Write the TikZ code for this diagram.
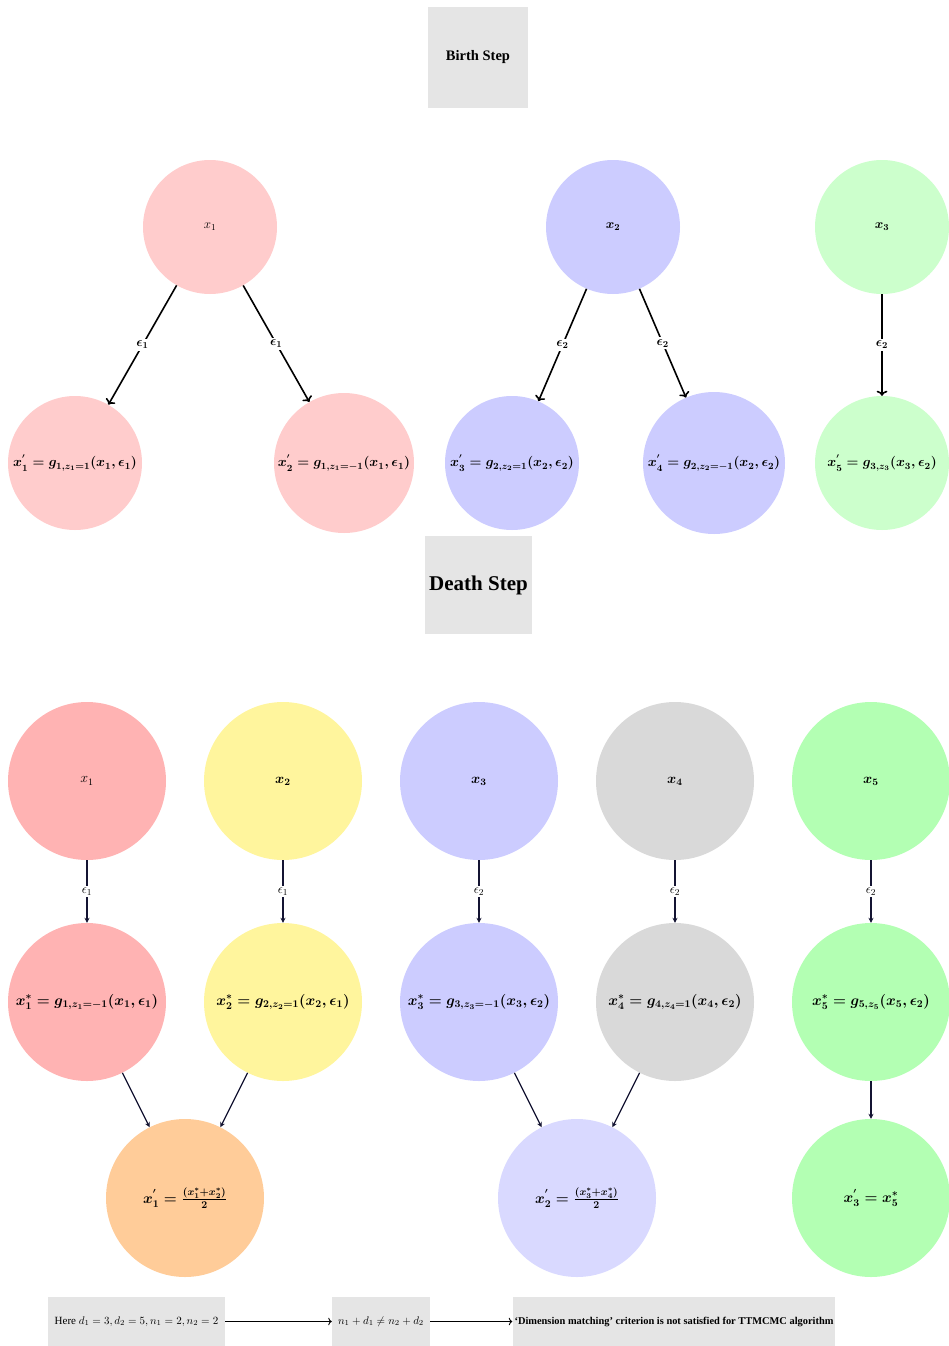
\RequirePackage{fix-cm}
\documentclass[tikz,border=0pt]{standalone}
\usepackage[no-math]{fontspec}
\setmainfont{Liberation Serif}
\usepackage{amsmath}
\usetikzlibrary{arrows.meta}
\definecolor{bpink}{RGB}{255,204,204}
\definecolor{bblue}{RGB}{204,204,255}
\definecolor{bgreen}{RGB}{204,255,204}
\definecolor{dred}{RGB}{255,179,179}
\definecolor{dyellow}{RGB}{255,245,157}
\definecolor{dblue}{RGB}{204,204,255}
\definecolor{dgray}{RGB}{217,217,217}
\definecolor{dgreen}{RGB}{179,255,179}
\definecolor{dorange}{RGB}{255,204,153}
\definecolor{dlblue}{RGB}{217,217,255}
\definecolor{boxgray}{RGB}{229,229,229}
\definecolor{navy}{RGB}{20,20,50}
\begin{document}
\begin{tikzpicture}[x=1pt,y=-1pt,
  bubble/.style={circle, inner sep=0pt, minimum size=134pt},
  dbubble/.style={circle, inner sep=0pt, minimum size=158pt},
  bmath/.style={font=\boldmath\fontsize{13.6}{16}\selectfont},
  dmath/.style={font=\boldmath\fontsize{14.8}{17}\selectfont},
  toplab/.style={font=\fontsize{13}{15}\selectfont},
  toplabb/.style={font=\boldmath\fontsize{13}{15}\selectfont},
  dtoplab/.style={font=\fontsize{14}{16}\selectfont},
  dtoplabb/.style={font=\boldmath\fontsize{14}{16}\selectfont},
  barrow/.style={->, line width=1.6pt},
  darrow/.style={-{Stealth[length=5pt,width=5pt]}, line width=1.3pt, draw=navy},
  blab/.style={fill=white, inner sep=2pt, font=\boldmath\fontsize{13}{15}\selectfont},
  dlab/.style={fill=white, inner sep=2pt, font=\fontsize{13}{15}\selectfont},
  stepbox/.style={fill=boxgray, inner sep=0pt, font=\bfseries},
  notebox/.style={fill=boxgray, inner sep=2pt, minimum height=49pt, font=\fontsize{11}{13}\selectfont},
  narrow/.style={->, line width=0.9pt}
]
\useasboundingbox (0,0) rectangle (948,1346);

% Birth step
\node[stepbox, minimum width=100pt, minimum height=101pt, font=\bfseries\fontsize{14.5}{16}\selectfont] (birth) at (478,57.5) {Birth Step};

\node[bubble, fill=bpink, toplab] (b1) at (210,227) {$x_1$};
\node[bubble, fill=bblue, toplabb] (b2) at (613,227) {$x_2$};
\node[bubble, fill=bgreen, toplabb] (b3) at (882,227) {$x_3$};

\node[bubble, fill=bpink, bmath] (b1a) at (75,463) {$x_1^{'}=g_{1,z_1=1}(x_1,\epsilon_1)$};
\node[bubble, fill=bpink, bmath, minimum size=140pt] (b1b) at (344,463) {$x_2^{'}=g_{1,z_1=-1}(x_1,\epsilon_1)$};
\node[bubble, fill=bblue, bmath] (b2a) at (512,463) {$x_3^{'}=g_{2,z_2=1}(x_2,\epsilon_2)$};
\node[bubble, fill=bblue, bmath, minimum size=142pt] (b2b) at (714,463) {$x_4^{'}=g_{2,z_2=-1}(x_2,\epsilon_2)$};
\node[bubble, fill=bgreen, bmath] (b3a) at (882,463) {$x_5^{'}=g_{3,z_3}(x_3,\epsilon_2)$};

\draw[barrow] (b1) -- node[blab] {$\epsilon_1$} (b1a);
\draw[barrow] (b1) -- node[blab] {$\epsilon_1$} (b1b);
\draw[barrow] (b2) -- node[blab] {$\epsilon_2$} (b2a);
\draw[barrow] (b2) -- node[blab] {$\epsilon_2$} (b2b);
\draw[barrow] (b3) -- node[blab] {$\epsilon_2$} (b3a);

% Death step
\node[stepbox, minimum width=107pt, minimum height=98pt, font=\bfseries\fontsize{21}{24}\selectfont] (death) at (478.5,585) {Death Step};

\node[dbubble, fill=dred, dtoplab] (d1) at (87,781) {$x_1$};
\node[dbubble, fill=dyellow, dtoplabb] (d2) at (283,781) {$x_2$};
\node[dbubble, fill=dblue, dtoplabb] (d3) at (479,781) {$x_3$};
\node[dbubble, fill=dgray, dtoplabb] (d4) at (675,781) {$x_4$};
\node[dbubble, fill=dgreen, dtoplabb] (d5) at (871,781) {$x_5$};

\node[dbubble, fill=dred, dmath] (s1) at (87,1002) {$x_1^{*}=g_{1,z_1=-1}(x_1,\epsilon_1)$};
\node[dbubble, fill=dyellow, dmath] (s2) at (283,1002) {$x_2^{*}=g_{2,z_2=1}(x_2,\epsilon_1)$};
\node[dbubble, fill=dblue, dmath] (s3) at (479,1002) {$x_3^{*}=g_{3,z_3=-1}(x_3,\epsilon_2)$};
\node[dbubble, fill=dgray, dmath] (s4) at (675,1002) {$x_4^{*}=g_{4,z_4=1}(x_4,\epsilon_2)$};
\node[dbubble, fill=dgreen, dmath] (s5) at (871,1002) {$x_5^{*}=g_{5,z_5}(x_5,\epsilon_2)$};

\node[dbubble, fill=dorange, dmath] (r1) at (185,1198) {$x_1^{'}=\frac{(x_1^{*}+x_2^{*})}{2}$};
\node[dbubble, fill=dlblue, dmath] (r2) at (577,1198) {$x_2^{'}=\frac{(x_3^{*}+x_4^{*})}{2}$};
\node[dbubble, fill=dgreen, dmath] (r3) at (871,1198) {$x_3^{'}=x_5^{*}$};

\draw[darrow] (d1) -- node[dlab] {$\epsilon_1$} (s1);
\draw[darrow] (d2) -- node[dlab] {$\epsilon_1$} (s2);
\draw[darrow] (d3) -- node[dlab] {$\epsilon_2$} (s3);
\draw[darrow] (d4) -- node[dlab] {$\epsilon_2$} (s4);
\draw[darrow] (d5) -- node[dlab] {$\epsilon_2$} (s5);

\draw[darrow] (s1) -- (r1);
\draw[darrow] (s2) -- (r1);
\draw[darrow] (s3) -- (r2);
\draw[darrow] (s4) -- (r2);
\draw[darrow] (s5) -- (r3);

% Bottom notes
\node[notebox, minimum width=177pt] (n1) at (136.5,1321.5) {Here $d_1=3, d_2=5, n_1=2, n_2=2$};
\node[notebox, minimum width=98pt] (n2) at (381,1321.5) {$n_1+d_1\neq n_2+d_2$};
\node[notebox, minimum width=322pt, font=\bfseries\fontsize{10.4}{12}\selectfont] (n3) at (674,1321.5) {‘Dimension matching’ criterion is not satisfied for TTMCMC algorithm};
\draw[narrow] (n1) -- (n2);
\draw[narrow] (n2) -- (n3);
\end{tikzpicture}
\end{document}
